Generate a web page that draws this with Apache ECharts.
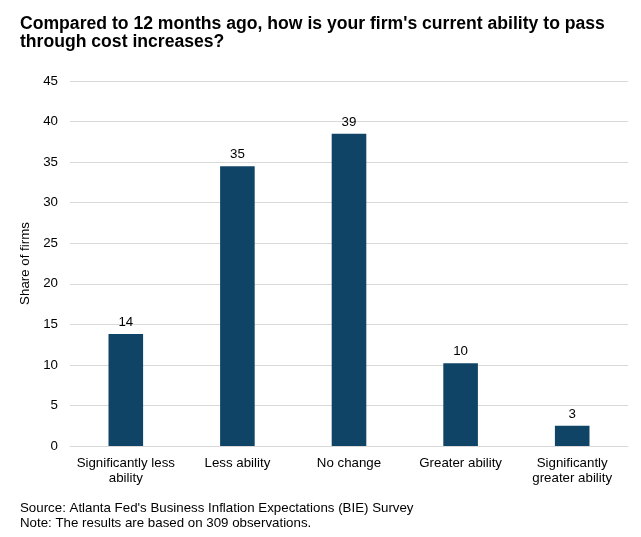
<!DOCTYPE html>
<html>
<head>
<meta charset="utf-8">
<script src="https://cdn.jsdelivr.net/npm/echarts@6/dist/echarts.min.js"></script>
<style>
  html, body { margin: 0; padding: 0; background: #fff; }
  #chart { width: 641px; height: 537px; }
</style>
</head>
<body>
<div id="chart"></div>
<script>
// share of firms by answer
const categories = ['Significantly less\nability', 'Less ability', 'No change', 'Greater ability', 'Significantly\ngreater ability']
const shares = [13.8, 34.5, 38.5, 10.2, 2.5]
const shareLabels = ['14', '35', '39', '10', '3']
const yTicks = [0, 5, 10, 15, 20, 25, 30, 35, 40, 45]

const chart = echarts.init(document.getElementById('chart'))
chart.setOption({
  animation: false,
  backgroundColor: '#fff',
  textStyle: { fontFamily: 'Liberation Sans, Arial, sans-serif' },
  title: [
    {
      text: "Compared to 12 months ago, how is your firm's current ability to pass\nthrough cost increases?",
      left: 15,
      top: 10,
      textStyle: { fontSize: 17.6, fontWeight: 'bold', color: '#000', lineHeight: 18 }
    },
    {
      text: "Source: Atlanta Fed's Business Inflation Expectations (BIE) Survey\nNote: The results are based on 309 observations.",
      left: 15,
      top: 496,
      textStyle: { fontSize: 13.3, fontWeight: 'normal', color: '#000', lineHeight: 15 }
    }
  ],
  grid: { left: 70, right: 13, top: 81, bottom: 91 },
  xAxis: {
    type: 'category',
    data: categories,
    axisTick: { show: false },
    axisLine: { lineStyle: { color: '#d9d9d9' } },
    axisLabel: { color: '#000', fontSize: 13.3, lineHeight: 15, margin: 10, interval: 0 }
  },
  yAxis: {
    type: 'value',
    min: yTicks[0],
    max: yTicks[yTicks.length - 1],
    interval: 5,
    name: 'Share of firms',
    nameLocation: 'middle',
    nameGap: 32,
    nameTextStyle: { color: '#000', fontSize: 13.3 },
    axisLabel: { color: '#000', fontSize: 13.3, margin: 12 },
    splitLine: { lineStyle: { color: '#d9d9d9' } },
    axisLine: { show: false },
    axisTick: { show: false }
  },
  series: [{
    type: 'bar',
    data: shares,
    barWidth: '31%',
    itemStyle: { color: '#0f4466' },
    label: {
      show: true,
      position: 'top',
      distance: 5,
      color: '#000',
      fontSize: 13.3,
      formatter: p => shareLabels[p.dataIndex]
    }
  }]
})
</script>
</body>
</html>
